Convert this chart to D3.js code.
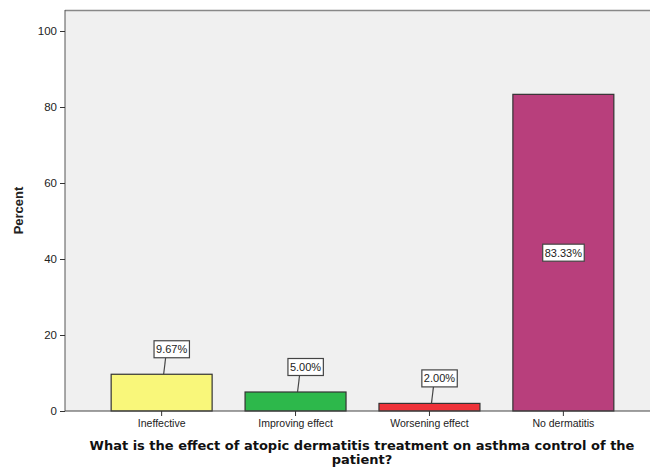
<!DOCTYPE html>
<html>
<head>
<meta charset="utf-8">
<script src="https://cdn.jsdelivr.net/npm/d3@7"></script>
<style>
  body { margin: 0; background: #fff; }
  text { font-family: "Liberation Sans", Arial, sans-serif; fill: #222; }
  .title { font-family: "DejaVu Sans", sans-serif; font-weight: bold; font-size: 13px; fill: #111; }
</style>
</head>
<body>
<svg id="chart" width="650" height="470"></svg>
<script>
const categories = ['Ineffective', 'Improving effect', 'Worsening effect', 'No dermatitis']
const percents = [9.67, 5.00, 2.00, 83.33]
const colors = ['#f9f77a', '#2db84b', '#ee3239', '#b83f7c']
const yTicks = [0, 20, 40, 60, 80, 100]
const titleLines = ['What is the effect of atopic dermatitis treatment on asthma control of the', 'patient?']

const svg = d3.select('#chart')
const plotLeft = 65, plotTop = 10, plotRight = 652, plotBottom = 411

const y = d3.scaleLinear().domain([0, 100]).range([plotBottom, 31])
const x = d3.scaleBand().domain(categories).range([75, 650]).paddingInner(0.246).paddingOuter(0.27)

// Plot background
svg.append('rect')
    .attr('x', plotLeft).attr('y', plotTop)
    .attr('width', plotRight - plotLeft).attr('height', plotBottom - plotTop)
    .attr('fill', '#f0f0f0')
svg.append('line')
    .attr('x1', plotLeft).attr('x2', plotRight).attr('y1', plotTop + 0.5).attr('y2', plotTop + 0.5)
    .attr('stroke', '#888').attr('stroke-width', 1.5)

// Bars
svg.selectAll('rect.bar').data(categories).join('rect').classed('bar', true)
    .attr('x', d => x(d))
    .attr('y', (d, i) => y(percents[i]))
    .attr('width', x.bandwidth())
    .attr('height', (d, i) => plotBottom - y(percents[i]))
    .attr('fill', (d, i) => colors[i])
    .attr('stroke', '#333').attr('stroke-width', 1.2)

// Y axis
const yAxis = svg.append('g')
    .attr('transform', `translate(${plotLeft},0)`)
    .call(d3.axisLeft(y).tickValues(yTicks).tickSize(5).tickPadding(3))
yAxis.select('.domain').attr('d', `M0,${plotTop}V${plotBottom}`).attr('stroke', '#555')
yAxis.selectAll('.tick line').attr('stroke', '#333')
yAxis.selectAll('text').style('font-size', '11.5px').attr('fill', '#222')

// X axis
const xAxis = svg.append('g')
    .attr('transform', `translate(0,${plotBottom})`)
    .call(d3.axisBottom(x).tickSize(5).tickPadding(4))
xAxis.select('.domain').attr('d', `M${plotLeft},0H${plotRight}`).attr('stroke', '#444')
xAxis.selectAll('.tick line').attr('stroke', '#333')
xAxis.selectAll('text').style('font-size', '10.5px').attr('fill', '#222')

// Value labels
const labels = svg.selectAll('g.vlabel').data(categories).join('g').classed('vlabel', true)
labels.each(function (d, i) {
  const g = d3.select(this)
  const cx = x(d) + x.bandwidth() / 2
  const inside = percents[i] > 50
  const lx = inside ? cx : cx + 10
  const ly = inside ? (y(percents[i]) + plotBottom) / 2 : y(percents[i]) - 25
  if (!inside) {
    g.append('line')
      .attr('x1', cx + 2).attr('y1', y(percents[i]))
      .attr('x2', cx + 4).attr('y2', ly + 8.5)
      .attr('stroke', '#444').attr('stroke-width', 1.2)
  }
  const t = g.append('text')
    .attr('x', lx).attr('y', ly + 4)
    .attr('text-anchor', 'middle')
    .style('font-size', '11px')
    .text(percents[i].toFixed(2) + '%')
  const bb = t.node().getBBox()
  g.insert('rect', 'text')
    .attr('x', bb.x - 2).attr('y', ly - 8.5)
    .attr('width', bb.width + 4).attr('height', 17)
    .attr('fill', '#fff').attr('stroke', '#444').attr('stroke-width', 1.2)
})

// Axis titles
svg.append('text')
    .attr('transform', `translate(23,${(plotTop + plotBottom) / 2}) rotate(-90)`)
    .attr('text-anchor', 'middle')
    .style('font-size', '13px').style('font-weight', 'bold')
    .text('Percent')

svg.append('text').classed('title', true)
    .attr('x', 362).attr('y', 450)
    .attr('text-anchor', 'middle')
    .selectAll('tspan').data(titleLines).join('tspan')
    .attr('x', 362).attr('dy', (d, i) => i ? 14 : 0)
    .text(d => d)
</script>
</body>
</html>
